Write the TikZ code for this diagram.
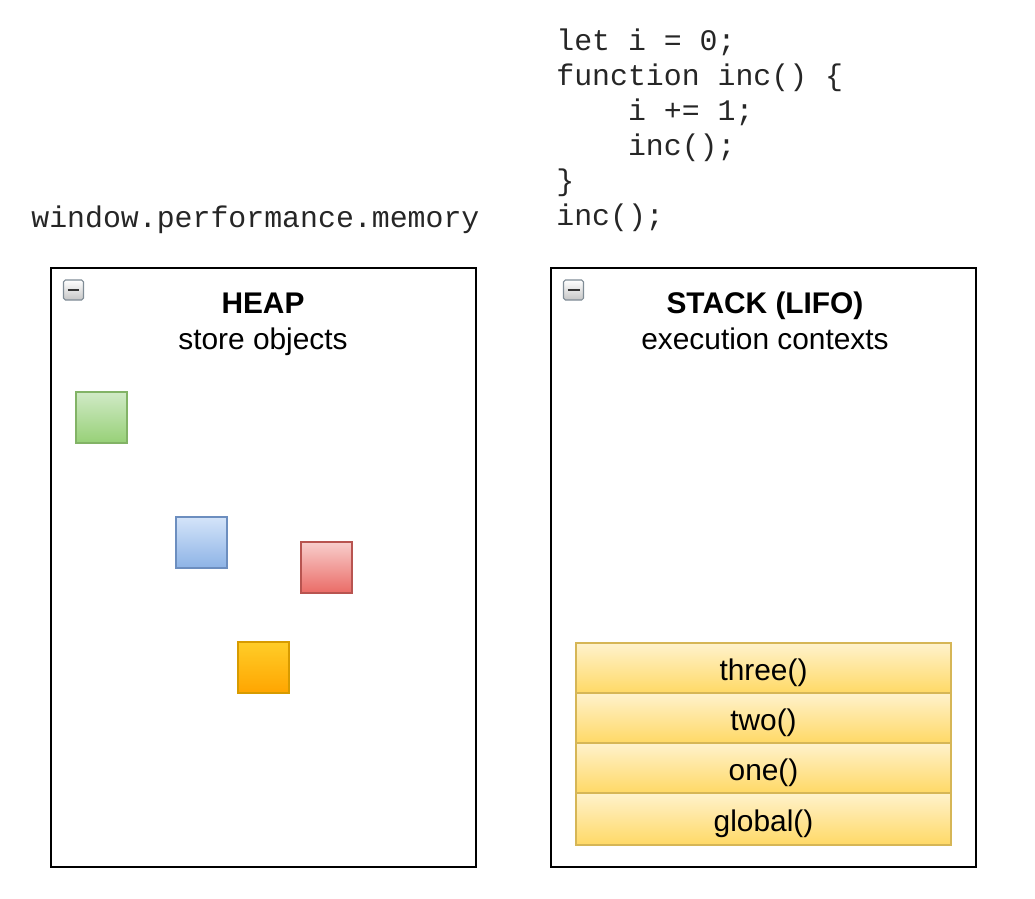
\documentclass[tikz,border=0pt]{standalone}
\usepackage{fontspec}
\setmainfont{Liberation Sans}
\setmonofont{Liberation Mono}
\usetikzlibrary{positioning}

\definecolor{grnline}{HTML}{82B366}
\definecolor{grntop}{HTML}{D0EAC6}
\definecolor{grnbot}{HTML}{97D077}
\definecolor{bluline}{HTML}{6C8EBF}
\definecolor{blutop}{HTML}{D4E4F9}
\definecolor{blubot}{HTML}{8DB3E6}
\definecolor{redline}{HTML}{B85450}
\definecolor{redtop}{HTML}{F8CECC}
\definecolor{redbot}{HTML}{EA6B66}
\definecolor{orgline}{HTML}{D79B00}
\definecolor{orgtop}{HTML}{FFCD28}
\definecolor{orgbot}{HTML}{FFA500}
\definecolor{ctxline}{HTML}{D6B656}
\definecolor{ctxtop}{HTML}{FFF2CC}
\definecolor{ctxbot}{HTML}{FFD966}
\definecolor{iconline}{HTML}{7F8C96}

\tikzset{
  panel/.style={draw=black, line width=1.3pt, inner sep=0pt},
  heading/.style={align=center, inner sep=0pt, font=\fontsize{17}{20.4}\selectfont},
  codetext/.style={align=left, inner sep=0pt, text=black!85, font=\ttfamily\fontsize{17}{19.85}\selectfont},
  obj/.style={draw, line width=1pt, minimum size=1.02cm, inner sep=0pt},
  ctx/.style={draw=ctxline, line width=1pt, top color=ctxtop, bottom color=ctxbot, outer sep=0pt,
    minimum width=7.5cm, minimum height=1cm, inner sep=0pt, text height=17.5pt, text depth=3.5pt,
    font=\fontsize{17}{20}\selectfont},
  iconbox/.style={draw=iconline, rounded corners=1pt, line width=0.6pt, top color=white,
    bottom color=gray!45, minimum size=0.4cm, inner sep=0pt}
}

\begin{document}
\begin{tikzpicture}[x=0.02cm, y=-0.02cm]
  \useasboundingbox (0,0) rectangle (1035,899);
  % code on top
  \node[codetext, anchor=north west] (code) at (556,29)
    {let i = 0;\\function inc() \{\\\ \ \ \ i += 1;\\\ \ \ \ inc();\\\}\\inc();};
  \node[codetext, anchor=west] (mem) at (31,220) {window.performance.memory};

  % the two panels
  \draw[panel] (51,268) rectangle (476,867);
  \draw[panel] (551,268) rectangle (976,867);
  \node[iconbox] (heapicon) at (73.5,290) {};
  \draw[line width=1.6pt, black!80] ([xshift=-0.12cm]heapicon.center) -- ([xshift=0.12cm]heapicon.center);
  \node[iconbox] (stackicon) at (573.5,290) {};
  \draw[line width=1.6pt, black!80] ([xshift=-0.12cm]stackicon.center) -- ([xshift=0.12cm]stackicon.center);
  \node[heading] (heap) at (263,324) {\strut\bfseries HEAP\\\strut store objects};
  \node[heading] (stack) at (765,324) {\strut\bfseries STACK (LIFO)\\\strut execution contexts};

  % objects in the heap
  \node[obj, draw=grnline, top color=grntop, bottom color=grnbot] (objA) at (101.5,417.5) {};
  \node[obj, draw=bluline, top color=blutop, bottom color=blubot] (objB) at (201.5,542.5) {};
  \node[obj, draw=redline, top color=redtop, bottom color=redbot] (objC) at (326.5,567.5) {};
  \node[obj, draw=orgline, top color=orgtop, bottom color=orgbot] (objD) at (263.5,667.5) {};

  % execution contexts
  \node[ctx] (three) at (763.5,668) {three()};
  \node[ctx, below=0pt of three] (two) {two()};
  \node[ctx, below=0pt of two] (one) {one()};
  \node[ctx, below=0pt of one, minimum height=1.04cm] (glob) {global()};
\end{tikzpicture}
\end{document}
